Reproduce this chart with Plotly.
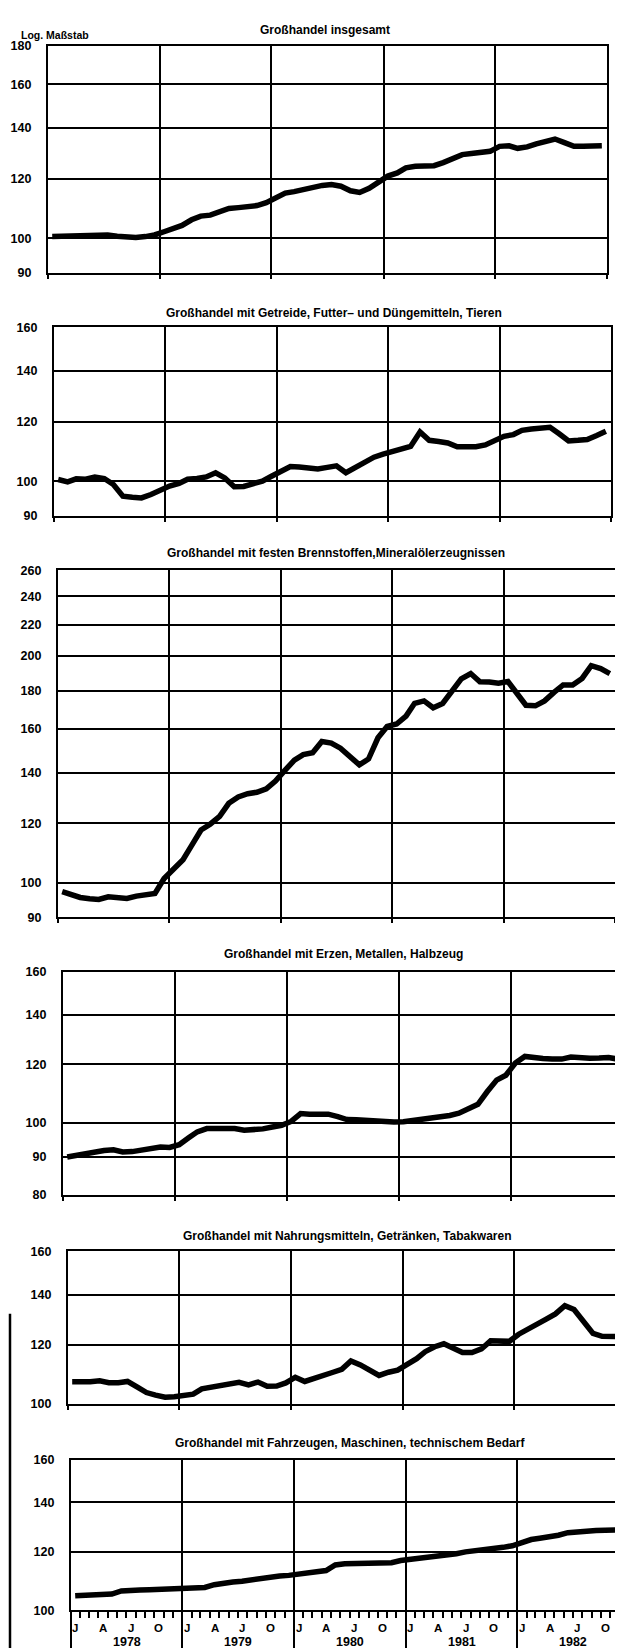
import math
import plotly.graph_objects as go

W, H = 623, 1648
FONT = "Liberation Sans, Arial, sans-serif"

# ---------------- data ----------------
years = [1978, 1979, 1980, 1981, 1982]
month_dates = [f"{y}-{m:02d}-15" for y in years for m in range(1, 13)]
year_starts = [f"{y}-01-01" for y in years + [1983]]
month_letters = ["J", "A", "J", "O"]
letter_months = [1, 4, 7, 10]

titles = [
    "Großhandel insgesamt",
    "Großhandel mit Getreide, Futter– und Düngemitteln, Tieren",
    "Großhandel mit festen Brennstoffen,Mineralölerzeugnissen",
    "Großhandel mit Erzen, Metallen, Halbzeug",
    "Großhandel mit Nahrungsmitteln, Getränken, Tabakwaren",
    "Großhandel mit Fahrzeugen, Maschinen, technischem Bedarf",
]

insgesamt = [100.5, 100.6, 100.7, 100.8, 100.9, 101.0, 101.0, 100.6, 100.3, 100.2, 100.5, 101.0,
             102.0, 103.0, 104.0, 105.8, 107.0, 107.3, 108.5, 109.5, 109.8, 110.3, 110.5, 111.5,
             113.0, 114.8, 115.3, 116.0, 117.0, 117.5, 117.8, 117.2, 115.6, 115.0, 116.5, 118.5,
             120.9, 122.1, 124.0, 124.6, 124.7, 124.8, 126.0, 127.4, 129.1, 129.5, 130.0, 130.4,
             132.4, 132.6, 131.6, 132.2, 133.4, 134.3, 135.4, 133.9, 132.4, 132.4, 132.6, 132.6]

getreide = [100.5, 99.8, 100.7, 100.6, 101.3, 100.8, 99.0, 95.5, 95.2, 95.0, 96.0, 97.3,
            98.5, 99.3, 100.6, 100.8, 101.3, 102.6, 101.0, 98.3, 98.4, 99.2, 100.0, 101.5,
            103.2, 104.6, 104.4, 103.9, 103.8, 104.3, 104.8, 102.6, 104.3, 106.2, 107.6, 108.6,
            109.4, 110.5, 111.2, 116.2, 113.3, 112.9, 112.4, 111.1, 111.1, 111.1, 111.7, 113.3,
            114.7, 115.3, 116.8, 117.3, 117.7, 117.9, 115.6, 113.1, 113.3, 113.6, 115.0, 116.5]

brennstoffe = [97.3, 96.2, 95.6, 95.2, 95.0, 95.8, 95.6, 95.3, 96.0, 96.3, 96.8, 101.3,
               104.0, 107.3, 112.0, 117.5, 119.6, 122.5, 127.5, 130.0, 131.3, 131.9, 133.3, 136.5,
               141.0, 145.5, 148.0, 148.8, 154.0, 153.3, 150.9, 147.3, 143.4, 146.0, 155.8, 161.3,
               162.5, 166.5, 173.1, 174.4, 170.8, 173.0, 179.4, 186.5, 189.6, 184.9, 184.8, 184.1,
               185.0, 177.9, 172.1, 171.8, 174.4, 179.0, 183.1, 183.1, 186.8, 194.2, 192.5, 189.6]

erze = [90.0, 90.5, 91.2, 91.6, 91.8, 92.0, 91.4, 91.5, 91.9, 92.4, 92.8, 92.7,
        93.5, 95.5, 97.3, 98.3, 98.4, 98.5, 98.3, 97.8, 97.9, 98.2, 98.8, 99.3,
        100.5, 103.0, 102.8, 102.6, 102.8, 102.0, 101.1, 101.0, 100.8, 100.4, 100.3, 100.3,
        100.4, 100.8, 101.0, 101.4, 101.9, 102.4, 103.1, 104.5, 106.0, 110.2, 114.3, 116.0,
        120.5, 123.0, 122.4, 122.2, 122.0, 122.0, 122.8, 122.3, 122.3, 122.4, 122.6, 122.0]

nahrung = [107.1, 107.0, 107.1, 107.4, 106.8, 106.8, 107.2, 105.4, 103.6, 102.8, 102.1, 102.3,
           102.8, 103.1, 104.8, 105.3, 105.6, 106.2, 106.9, 106.1, 107.0, 105.6, 105.7, 106.7,
           108.6, 107.2, 108.3, 109.5, 110.2, 111.3, 114.2, 112.8, 110.8, 109.2, 110.3, 111.0,
           113.0, 115.0, 117.5, 119.3, 120.4, 118.6, 117.2, 117.2, 118.5, 121.5, 121.2, 121.3,
           124.0, 126.2, 128.0, 129.9, 132.0, 135.4, 133.8, 129.2, 124.3, 123.2, 123.0, 123.1]

fahrzeuge = [104.6, 104.8, 104.9, 105.0, 105.2, 106.2, 106.5, 106.5, 106.6, 106.8, 106.9, 107.0,
             107.0, 107.2, 107.4, 108.3, 108.9, 109.2, 109.5, 110.0, 110.4, 110.9, 111.3, 111.5,
             111.8, 112.3, 112.8, 113.2, 115.2, 115.6, 115.7, 116.0, 116.2, 116.0, 116.0, 116.8,
             117.2, 117.6, 118.0, 118.2, 118.5, 119.3, 120.0, 120.3, 120.7, 121.1, 121.7, 122.3,
             123.6, 124.7, 125.2, 125.7, 126.4, 127.4, 127.8, 128.1, 128.3, 128.4, 128.5, 128.5]

series = [insgesamt, getreide, brennstoffe, erze, nahrung, fahrzeuge]

yticks = [
    [90, 100, 120, 140, 160, 180],
    [90, 100, 120, 140, 160],
    [90, 100, 120, 140, 160, 180, 200, 220, 240, 260],
    [80, 90, 100, 120, 140, 160],
    [100, 120, 140, 160],
    [100, 120, 140, 160],
]

# ---------------- layout geometry (pixels) ----------------
# left, right, top, bottom of each plot area
boxes = [
    (40, 600, 31, 260),
    (46, 604, 315, 505),
    (50, 608, 560, 910),
    (55, 616, 965, 1190),
    (60, 619, 1247, 1401),
    (63, 622, 1457, 1609),
]
title_pos = [(318, 15), (327, 301), (329, 543), (336, 947), (340, 1231), (343, 1440)]

fig = go.Figure()
annotations = []
layout = dict(
    width=W, height=H,
    margin=dict(l=0, r=0, t=0, b=0),
    paper_bgcolor="white", plot_bgcolor="white",
    showlegend=False,
    font=dict(family=FONT, color="black"),
)

for i, (vals, ticks, box, title, tp) in enumerate(zip(series, yticks, boxes, titles, title_pos), start=1):
    l, r, t, b = box
    xa = f"x{i}" if i > 1 else "x"
    ya = f"y{i}" if i > 1 else "y"
    fig.add_trace(go.Scatter(
        x=month_dates, y=vals, mode="lines",
        line=dict(color="black", width=5.5, shape="linear"),
        xaxis=xa, yaxis=ya, hoverinfo="skip",
    ))
    last = (i == len(series))
    xkey = "xaxis" if i == 1 else f"xaxis{i}"
    ykey = "yaxis" if i == 1 else f"yaxis{i}"
    xdef = dict(
        domain=[l / W, r / W], anchor=ya, type="date",
        range=["1978-01-01", "1983-01-01"],
        tickmode="array", tickvals=year_starts, showticklabels=False,
        showgrid=True, gridcolor="black", gridwidth=1.8,
        showline=True, mirror=True, linecolor="black", linewidth=2,
        ticks="outside", ticklen=40 if last else 4, tickcolor="black", tickwidth=1.8,
        zeroline=False, fixedrange=True,
    )
    if last:
        xdef["minor"] = dict(dtick="M1", tick0="1978-01-01", ticks="outside",
                             ticklen=6, tickcolor="black", tickwidth=1.5, showgrid=False)
    layout[xkey] = xdef
    lo, hi = min(ticks), max(ticks)
    layout[ykey] = dict(
        domain=[1 - b / H, 1 - t / H], anchor=xa, type="log",
        range=[math.log10(lo) - 1e-4, math.log10(hi) + 1e-4],
        tickmode="array", tickvals=ticks, ticktext=[str(v) for v in ticks],
        showgrid=True, gridcolor="black", gridwidth=1.8,
        showline=True, mirror=True, linecolor="black", linewidth=2,
        ticks="", ticklabelstandoff=12,
        tickfont=dict(family=FONT, size=12.5, color="black", weight="bold"),
        zeroline=False, fixedrange=True,
    )
    annotations.append(dict(
        text=title, x=tp[0] / W, y=1 - tp[1] / H, xref="paper", yref="paper",
        xanchor="center", yanchor="middle", showarrow=False,
        font=dict(family=FONT, size=12, color="black", weight="bold"),
    ))

annotations.append(dict(
    text="Log. Maßstab", x=11 / W, y=1 - 20 / H, xref="paper", yref="paper",
    xanchor="left", yanchor="middle", showarrow=False,
    font=dict(family=FONT, size=10.5, color="black", weight="bold"),
))

# month letters and year labels under the last panel
for y in years:
    for letter, m in zip(month_letters, letter_months):
        annotations.append(dict(
            text=letter, x=f"{y}-{m:02d}-16", y=1 - 1627 / H, xref="x6", yref="paper",
            xanchor="center", yanchor="middle", showarrow=False,
            font=dict(family=FONT, size=11.5, color="black", weight="bold"),
        ))
    annotations.append(dict(
        text=str(y), x=f"{y}-07-02", y=1 - 1641 / H, xref="x6", yref="paper",
        xanchor="center", yanchor="middle", showarrow=False,
        font=dict(family=FONT, size=12.5, color="black", weight="bold"),
    ))

layout["annotations"] = annotations
layout["shapes"] = [dict(type="line", xref="paper", yref="paper",
                         x0=2 / W, x1=2 / W, y0=1 - 1310 / H, y1=0,
                         line=dict(color="black", width=2.5))]
fig.update_layout(**layout)
fig.write_html("out.html")
